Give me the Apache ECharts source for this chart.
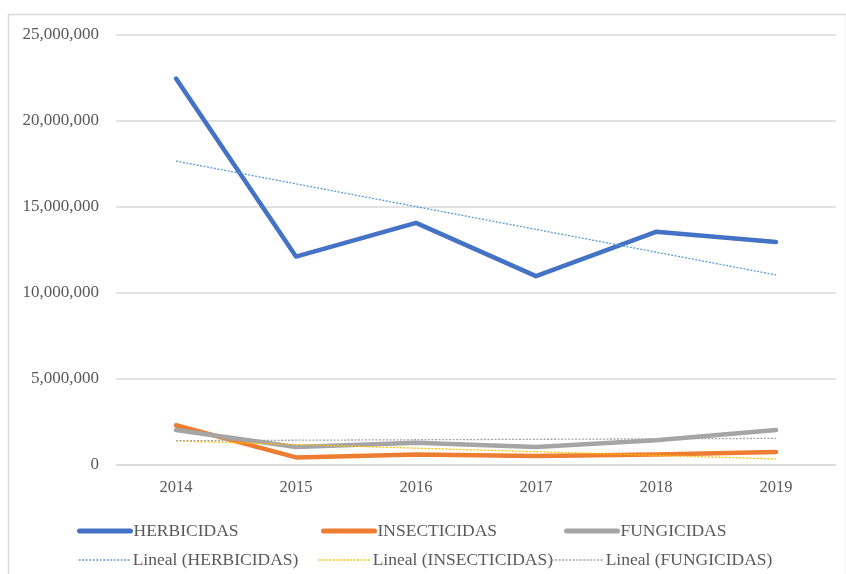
<!DOCTYPE html>
<html>
<head>
<meta charset="utf-8">
<script src="https://cdn.jsdelivr.net/npm/echarts@6/dist/echarts.min.js"></script>
<style>
  html, body { margin: 0; padding: 0; background: #ffffff; }
  #chart { width: 846px; height: 574px; }
</style>
</head>
<body>
<div id="chart"></div>
<script>
// Years on the category axis
const years = ['2014', '2015', '2016', '2017', '2018', '2019'];

// Annual volumes per product group
const herbicidas   = [22440000, 12090000, 14050000, 10950000, 13530000, 12930000];
const insecticidas = [2280000, 410000, 580000, 500000, 580000, 730000];
const fungicidas   = [2000000, 1020000, 1260000, 1020000, 1410000, 2000000];

// Value axis ticks
const yTicks = [0, 5000000, 10000000, 15000000, 20000000, 25000000];

// Least-squares linear trend over the category index
function linearTrend(values) {
  const n = values.length;
  let sx = 0, sy = 0, sxy = 0, sxx = 0;
  values.forEach((v, i) => { sx += i; sy += v; sxy += i * v; sxx += i * i; });
  const slope = (n * sxy - sx * sy) / (n * sxx - sx * sx);
  const intercept = (sy - slope * sx) / n;
  return values.map((_, i) => intercept + slope * i);
}

const serif = '"Liberation Serif", "Times New Roman", serif';
const textColor = '#595959';
const dotted = [2, 1.5];

function mainLine(name, data, color) {
  return {
    name, type: 'line', data, symbol: 'none', z: 2,
    lineStyle: { color, width: 4.5, cap: 'round', join: 'round' },
    itemStyle: { color }
  };
}
function trendLine(name, data, color) {
  return {
    name, type: 'line', data, symbol: 'none', z: 3, silent: true,
    lineStyle: { color, width: 1.3, type: dotted },
    itemStyle: { color }
  };
}

// One legend block per entry so each sits in its own column
function legendAt(name, left, top, trend) {
  return {
    data: [name], left, top, itemWidth: 51, itemHeight: 12, itemGap: 0,
    itemStyle: { opacity: 0 },
    lineStyle: trend ? { width: 1.3, type: dotted } : { width: 5, cap: 'round' },
    textStyle: { fontFamily: serif, fontSize: 17.5, color: textColor, padding: [0, 0, 0, -2] },
    selectedMode: false
  };
}

const chart = echarts.init(document.getElementById('chart'));
chart.setOption({
  animation: false,
  backgroundColor: '#ffffff',
  graphic: [{
    type: 'rect', left: 6, top: 12, shape: { width: 838, height: 580 },
    style: { fill: 'none', stroke: '#d9d9d9', lineWidth: 1.5 }, silent: true
  }],
  grid: { left: 116, right: 10, top: 34.5, bottom: 109.5 },
  legend: [
    legendAt('HERBICIDAS', 72, 517, false),
    legendAt('INSECTICIDAS', 316, 517, false),
    legendAt('FUNGICIDAS', 559, 517, false),
    legendAt('Lineal (HERBICIDAS)', 73, 546, true),
    legendAt('Lineal (INSECTICIDAS)', 313, 546, true),
    legendAt('Lineal (FUNGICIDAS)', 546, 546, true)
  ],
  xAxis: {
    type: 'category', data: years, boundaryGap: true,
    axisLine: { lineStyle: { color: '#d9d9d9', width: 1.5 } },
    axisTick: { show: false },
    axisLabel: { fontFamily: serif, fontSize: 16.5, color: textColor, margin: 15 }
  },
  yAxis: {
    type: 'value', min: yTicks[0], max: yTicks[yTicks.length - 1], interval: yTicks[1] - yTicks[0],
    axisLine: { show: false }, axisTick: { show: false },
    splitLine: { lineStyle: { color: '#d9d9d9', width: 1.5 } },
    axisLabel: {
      fontFamily: serif, fontSize: 17, color: textColor, margin: 17,
      formatter: v => v.toLocaleString('en-US')
    }
  },
  series: [
    mainLine('HERBICIDAS', herbicidas, '#4472C4'),
    mainLine('INSECTICIDAS', insecticidas, '#ED7D31'),
    mainLine('FUNGICIDAS', fungicidas, '#A5A5A5'),
    trendLine('Lineal (HERBICIDAS)', linearTrend(herbicidas), '#5B9BD5'),
    trendLine('Lineal (INSECTICIDAS)', linearTrend(insecticidas), '#FFC000'),
    trendLine('Lineal (FUNGICIDAS)', linearTrend(fungicidas), '#A5A5A5')
  ]
});
</script>
</body>
</html>
